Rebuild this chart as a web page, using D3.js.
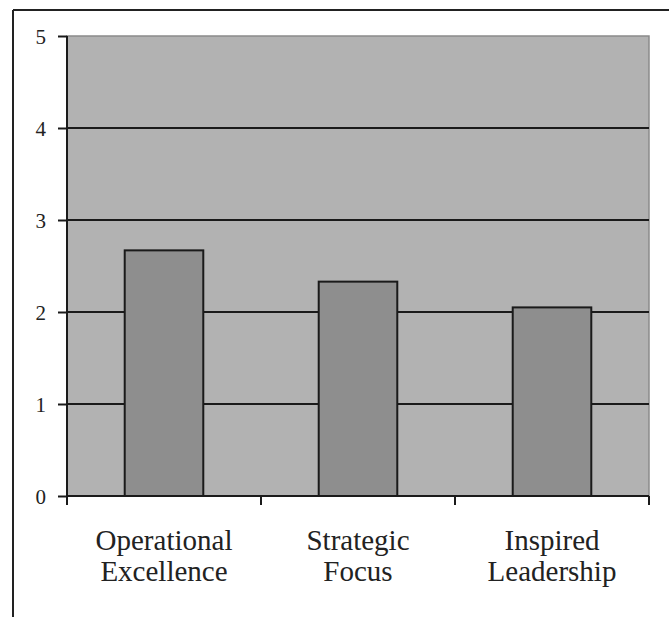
<!DOCTYPE html>
<html><head><meta charset="utf-8">
<script src="https://cdn.jsdelivr.net/npm/d3@7"></script>
</head><body style="margin:0">
<script>
const categories = [["Operational","Excellence"],["Strategic","Focus"],["Inspired","Leadership"]];
const values = [2.67, 2.33, 2.05];
const yTicks = [0,1,2,3,4,5];

const W = 669, H = 617;
const margin = {left:67, right:20, top:36, bottom:121};
const svg = d3.select("body").append("svg").attr("width",W).attr("height",H).style("display","block");

// outer frame
svg.append("line").attr("x1",13).attr("x2",W).attr("y1",10).attr("y2",10).attr("stroke","#222").attr("stroke-width",2);
svg.append("line").attr("x1",13).attr("x2",13).attr("y1",10).attr("y2",H).attr("stroke","#222").attr("stroke-width",2);

const x = d3.scaleBand().domain(d3.range(categories.length)).range([margin.left, W - margin.right]);
const y = d3.scaleLinear().domain([0,5]).range([H - margin.bottom, margin.top]);

// plot background
svg.append("rect").attr("x",margin.left).attr("y",y(5)).attr("width",x.range()[1]-margin.left).attr("height",y(0)-y(5))
  .attr("fill","#b2b2b2").attr("stroke","#8a8a8a").attr("stroke-width",1.5);

// gridlines
svg.selectAll("line.grid").data(yTicks.filter(d=>d>0 && d<5)).join("line").attr("class","grid")
  .attr("x1",margin.left).attr("x2",x.range()[1]).attr("y1",d=>y(d)).attr("y2",d=>y(d))
  .attr("stroke","#1a1a1a").attr("stroke-width",2);

// bars
const bw = x.bandwidth()*0.405;
svg.selectAll("rect.bar").data(values).join("rect").attr("class","bar")
  .attr("x",(d,i)=>x(i)+x.bandwidth()/2-bw/2).attr("width",bw)
  .attr("y",d=>y(d)).attr("height",d=>y(0)-y(d))
  .attr("fill","#8e8e8e").attr("stroke","#1a1a1a").attr("stroke-width",2);

// y axis line + ticks
const yAxis = svg.append("g").attr("transform",`translate(${margin.left},0)`)
  .call(d3.axisLeft(y).tickValues(yTicks).tickSize(9).tickFormat(""));
yAxis.select(".domain").attr("stroke","#1a1a1a").attr("stroke-width",2).attr("d",`M0,${y(5)}V${y(0)}`);
yAxis.selectAll(".tick line").attr("stroke","#1a1a1a").attr("stroke-width",2);

// y labels directly in svg
svg.selectAll("text.ylab").data(yTicks).join("text").attr("class","ylab")
  .attr("x",margin.left-21).attr("y",d=>y(d)+8)
  .attr("text-anchor","end")
  .style("font-family",'"Liberation Serif"').style("font-size","21px").attr("fill","#222")
  .text(d=>d);

// x axis
svg.append("line").attr("x1",margin.left).attr("x2",x.range()[1]).attr("y1",y(0)).attr("y2",y(0)).attr("stroke","#1a1a1a").attr("stroke-width",2);
const xt = d3.range(categories.length+1).map(i=> i<categories.length ? x(i) : x.range()[1]);
svg.selectAll("line.xt").data(xt).join("line").attr("class","xt")
  .attr("x1",d=>d).attr("x2",d=>d).attr("y1",y(0)).attr("y2",y(0)+9).attr("stroke","#1a1a1a").attr("stroke-width",2);

const lines = [];
categories.forEach((d,i)=>d.forEach((s,j)=>lines.push({i,j,s})));
svg.selectAll("text.xlab").data(lines).join("text").attr("class","xlab")
  .attr("x",d=>x(d.i)+x.bandwidth()/2).attr("y",d=>y(0)+54+d.j*31)
  .attr("text-anchor","middle")
  .style("font-family",'"Liberation Serif"').style("font-size","29px").attr("fill","#222")
  .text(d=>d.s);
</script>
</body></html>
